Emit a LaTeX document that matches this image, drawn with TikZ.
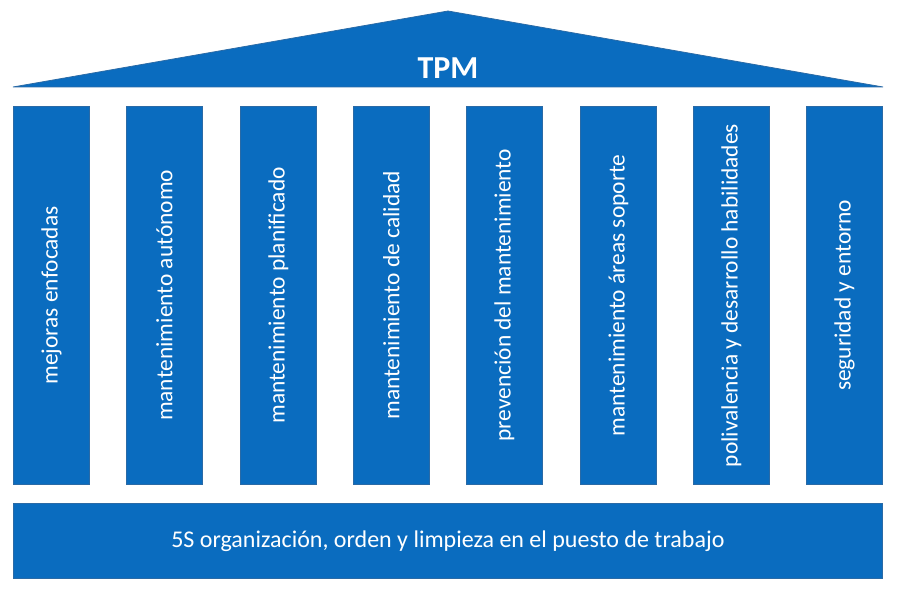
\documentclass[tikz,border=0pt]{standalone}
\usepackage{fontspec}
\setmainfont{Carlito}
\definecolor{tpmblue}{HTML}{0A6CBF}
\definecolor{tpmedge}{HTML}{2A6AA6}
\begin{document}
\begin{tikzpicture}[x=1pt,y=-1pt,
  block/.style={fill=tpmblue,draw=tpmedge,line width=0.8pt},
  pillar/.style={block,minimum width=76pt,minimum height=378pt,inner sep=0pt,anchor=north west},
  pillartext/.style={text=white,rotate=90,font=\fontsize{23.4}{28}\selectfont}]
\useasboundingbox (0,0) rectangle (898,591);
\filldraw[block] (13,87) -- (448,11) -- (883,87) -- cycle;
\node[text=white,font=\bfseries\fontsize{32}{36}\selectfont] (tpm) at (448,68) {TPM};
\foreach \i/\x/\t in {1/13/mejoras enfocadas,
  2/126/mantenimiento autónomo,
  3/240/mantenimiento planificado,
  4/353/mantenimiento de calidad,
  5/466/prevención del mantenimiento,
  6/580/mantenimiento áreas soporte,
  7/693/polivalencia y desarrollo habilidades,
  8/806/seguridad y entorno}{
  \node[pillar] (p\i) at (\x,106) {};
  \node[pillartext] (t\i) at (p\i.center) {\t};
}
\node[block,minimum width=869pt,minimum height=75pt,inner sep=0pt,anchor=north west,
  text=white,font=\fontsize{24}{28}\selectfont] (base) at (13,503)
  {5S organización, orden y limpieza en el puesto de trabajo};
\end{tikzpicture}
\end{document}
